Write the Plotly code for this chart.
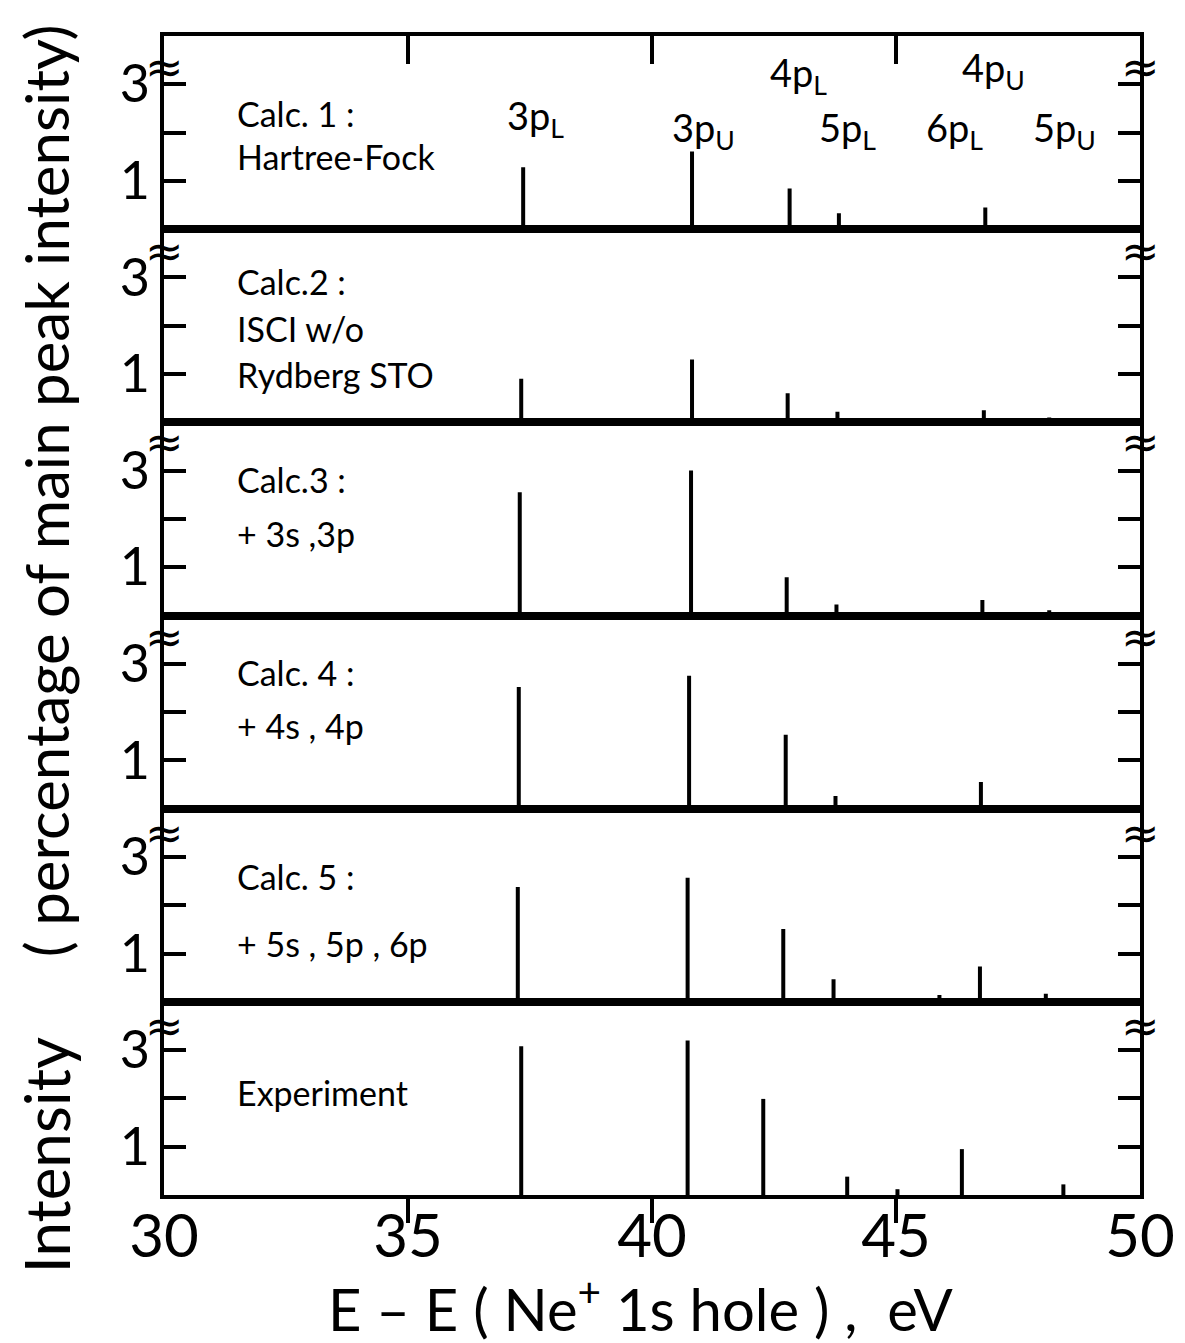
import plotly.graph_objects as go
from plotly.subplots import make_subplots

# ---------------- data ----------------
x_range = [30, 50]
y_range = [0, 4]
x_tick_vals = [30, 35, 40, 45, 50]
x_tick_text = ["30", "35", "40", "45", "50"]
x_minor_ticks = [35, 40, 45]
y_tick_vals = [1, 2, 3]
y_tick_text = ["1", "", "3"]

# peak energies (eV) and intensities (% of main peak) per panel
calc1_x = [37.36, 40.82, 42.82, 43.83, 45.89, 46.83, 48.24]
calc1_y = [1.28, 1.61, 0.84, 0.33, 0.08, 0.45, 0.08]
calc2_x = [37.32, 40.82, 42.78, 43.80, 46.80, 48.14]
calc2_y = [0.90, 1.30, 0.60, 0.22, 0.25, 0.10]
calc3_x = [37.29, 40.80, 42.76, 43.78, 46.77, 48.14]
calc3_y = [2.55, 3.00, 0.79, 0.23, 0.32, 0.11]
calc4_x = [37.27, 40.76, 42.74, 43.76, 46.74]
calc4_y = [2.52, 2.75, 1.53, 0.26, 0.55]
calc5_x = [37.25, 40.73, 42.69, 43.72, 45.89, 46.72, 48.07]
calc5_y = [2.38, 2.57, 1.51, 0.47, 0.14, 0.73, 0.17]
exp_x = [37.32, 40.73, 42.28, 44.00, 45.03, 46.35, 48.43]
exp_y = [3.08, 3.20, 1.99, 0.38, 0.12, 0.95, 0.22]

panel_x = [calc1_x, calc2_x, calc3_x, calc4_x, calc5_x, exp_x]
panel_y = [calc1_y, calc2_y, calc3_y, calc4_y, calc5_y, exp_y]

panel_text = [
    ["Calc. 1 :", "Hartree-Fock"],
    ["Calc.2 :", "ISCI w/o", "Rydberg STO"],
    ["Calc.3 :", "+ 3s ,3p"],
    ["Calc. 4 :", "+ 4s , 4p"],
    ["Calc. 5 :", "+ 5s , 5p , 6p"],
    ["Experiment"],
]
peak_names = ["3p<sub>L</sub>", "3p<sub>U</sub>", "4p<sub>L</sub>", "5p<sub>L</sub>",
              "6p<sub>L</sub>", "4p<sub>U</sub>", "5p<sub>U</sub>"]

x_title = "E \u2013 E ( Ne<sup>+</sup> 1s hole ) ,  eV"
y_title_a = "Intensity"
y_title_b = "( percentage of main peak intensity)"

# ---------------- layout constants ----------------
panel_text_y = [[2.4, 1.5], [2.92, 1.95, 1.0], [2.81, 1.69], [2.83, 1.73], [2.6, 1.2], [2.12]]
panel_text_x = 31.45
peak_label_pos = [(37.62, 2.3), (41.05, 2.05), (43.0, 3.2), (44.0, 2.05),
                  (46.2, 2.05), (47.0, 3.3), (48.45, 2.05)]
break_y = [3.35, 3.55, 3.6, 3.55, 3.5, 3.5]

FONT = "Lato"
LW = 3.5

fig = make_subplots(rows=6, cols=1, vertical_spacing=0)

for i in range(6):
    xs, ys = [], []
    for xv, hv in zip(panel_x[i], panel_y[i]):
        xs += [xv, xv, None]
        ys += [0, hv, None]
    fig.add_trace(go.Scatter(x=xs, y=ys, mode="lines",
                             line=dict(color="black", width=4),
                             showlegend=False, hoverinfo="skip"),
                  row=i + 1, col=1)
    fig.update_xaxes(range=x_range, showline=True, linewidth=LW, linecolor="black",
                     mirror=True, ticks="", showticklabels=False, showgrid=False,
                     zeroline=False, row=i + 1, col=1)
    fig.update_yaxes(range=y_range, tickvals=y_tick_vals, ticktext=y_tick_text,
                     ticks="inside", ticklen=22, tickwidth=LW, tickcolor="black",
                     mirror="ticks", showline=True, linewidth=LW, linecolor="black",
                     showgrid=False, zeroline=False,
                     tickfont=dict(size=52, family=FONT, color="black"),
                     row=i + 1, col=1)

# bottom axis labels
fig.update_xaxes(tickvals=x_tick_vals, ticktext=x_tick_text, showticklabels=True,
                 ticks="", ticklabelstandoff=-14,
                 tickfont=dict(size=60, family=FONT, color="black"), row=6, col=1)

# overlay axes for visible tick marks (top of panel 1, bottom of panel 6)
fig.add_trace(go.Scatter(x=[30], y=[0], xaxis="x7", yaxis="y", mode="markers",
                         marker=dict(opacity=0), showlegend=False, hoverinfo="skip"))
fig.add_trace(go.Scatter(x=[30], y=[0], xaxis="x8", yaxis="y6", mode="markers",
                         marker=dict(opacity=0), showlegend=False, hoverinfo="skip"))
fig.update_layout(
    xaxis7=dict(overlaying="x", anchor="y", side="top", range=x_range,
                tickvals=x_minor_ticks, ticks="inside", ticklen=28, tickwidth=LW,
                tickcolor="black", showticklabels=False, showgrid=False,
                zeroline=False, showline=False),
    xaxis8=dict(overlaying="x6", anchor="y6", side="bottom", range=x_range,
                tickvals=x_minor_ticks, ticks="outside", ticklen=27, tickwidth=LW,
                tickcolor="black", showticklabels=False, showgrid=False,
                zeroline=False, showline=False),
)

annotations = []
axis_suffix = ["", "2", "3", "4", "5", "6"]
for i in range(6):
    sfx = axis_suffix[i]
    for txt, yv in zip(panel_text[i], panel_text_y[i]):
        annotations.append(dict(x=panel_text_x, y=yv, xref="x" + sfx, yref="y" + sfx,
                                text=txt, showarrow=False, xanchor="left",
                                yanchor="middle",
                                font=dict(size=34, family=FONT, color="black")))
    for xd in [0, 1]:
        annotations.append(dict(x=xd, y=break_y[i], xref="x" + sfx + " domain",
                                yref="y" + sfx, text="\u2248", showarrow=False,
                                xanchor="center", yanchor="middle",
                                font=dict(size=46, family="DejaVu Sans", color="black")))

for name, (lx, ly) in zip(peak_names, peak_label_pos):
    annotations.append(dict(x=lx, y=ly, xref="x", yref="y", text=name,
                            showarrow=False, xanchor="center", yanchor="middle",
                            font=dict(size=38, family=FONT, color="black")))

annotations.append(dict(x=0.488, y=-0.095, xref="paper", yref="paper", text=x_title,
                        showarrow=False, xanchor="center", yanchor="middle",
                        font=dict(size=58, family=FONT, color="black")))
annotations.append(dict(x=-0.121, y=0.034, xref="paper", yref="paper", text=y_title_a,
                        showarrow=False, textangle=-90, xanchor="center",
                        yanchor="middle",
                        font=dict(size=62, family=FONT, color="black")))
annotations.append(dict(x=-0.121, y=0.608, xref="paper", yref="paper", text=y_title_b,
                        showarrow=False, textangle=-90, xanchor="center",
                        yanchor="middle",
                        font=dict(size=60, family=FONT, color="black")))

# the page body adds an 8px margin, so the figure is sized to fit inside it
fig.update_layout(
    annotations=annotations,
    width=1177, height=1335,
    margin=dict(l=156, r=45, t=28, b=148, autoexpand=False),
    paper_bgcolor="white", plot_bgcolor="white",
    font=dict(family=FONT, color="black"),
)

fig.write_html("out.html")
